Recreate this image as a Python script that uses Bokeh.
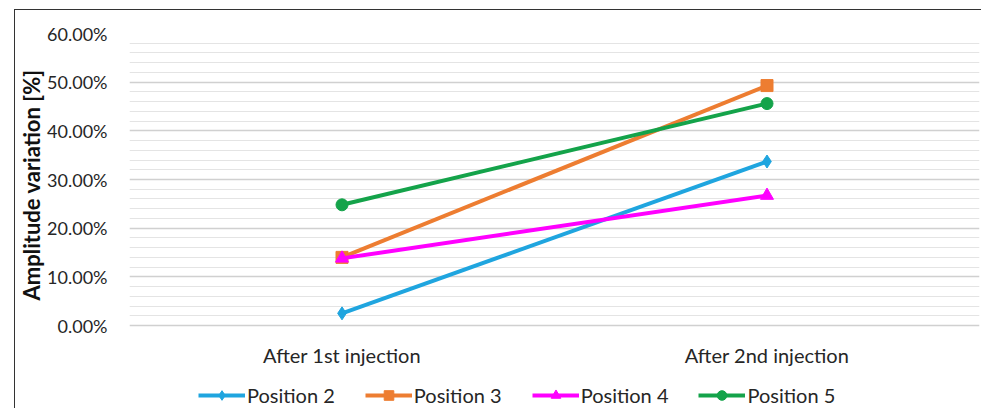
from bokeh.plotting import figure
from bokeh.models import (FactorRange, Range1d, NumeralTickFormatter, FixedTicker,
                          Legend, LegendItem, Title)
from bokeh.core.properties import value
from bokeh.embed import file_html
from bokeh.resources import INLINE

categories = ["After 1st injection", "After 2nd injection"]
series_names = ["Position 2", "Position 3", "Position 4", "Position 5"]
pos2 = [0.025, 0.337]
pos3 = [0.140, 0.493]
pos4 = [0.138, 0.267]
pos5 = [0.248, 0.456]
y_ticks = [0.0, 0.1, 0.2, 0.3, 0.4, 0.5, 0.6]
y_minor_ticks = [0.02, 0.04, 0.06, 0.08, 0.12, 0.14, 0.16, 0.18, 0.22, 0.24, 0.26, 0.28,
                 0.32, 0.34, 0.36, 0.38, 0.42, 0.44, 0.46, 0.48, 0.52, 0.54, 0.56, 0.58]
y_label = "Amplitude variation [%]"

series = [pos2, pos3, pos4, pos5]
colors = ["#1FA5DF", "#ED7D31", "#FF00FF", "#14A34A"]
markers = ["diamond", "square", "triangle", "circle"]
msizes = [13, 12, 13, 12]

FONT = "Lato"
TXT = "#262626"

# frame extends below zero so that category labels and legend sit inside it
Y_BOTTOM = -0.1705
XLABEL_Y = -0.0596

p = figure(frame_width=850, frame_height=375,
           x_range=FactorRange(*categories), y_range=Range1d(Y_BOTTOM, 0.6),
           output_backend="svg", toolbar_location=None,
           min_border_left=113, min_border_right=2, min_border_top=23, min_border_bottom=0)
p.styles = {"margin-left": "14px", "margin-top": "9px",
            "border-left": "1px solid #333", "border-top": "1px solid #333"}
p.outline_line_color = None

items = []
for name, vals, c, m, s in zip(series_names, series, colors, markers, msizes):
    r1 = p.line(categories, vals, line_color=c, line_width=4)
    r2 = p.scatter(categories, vals, marker=m, size=s, fill_color=c, line_color=c)
    items.append(LegendItem(label=name, renderers=[r1, r2]))

# category labels
p.text(x=categories, y=[XLABEL_Y] * len(categories), text=categories,
       text_font=value(FONT), text_font_size="20px", text_color=TXT,
       text_align="center", text_baseline="middle")

legend = Legend(items=items, orientation="horizontal", location=(69, 1),
                border_line_color=None, background_fill_alpha=0,
                label_text_font=FONT, label_text_font_size="20px", label_text_color=TXT,
                glyph_width=47, glyph_height=24, spacing=30, padding=0, margin=0,
                label_standoff=2)
p.add_layout(legend)

p.yaxis.ticker = FixedTicker(ticks=y_ticks, minor_ticks=y_minor_ticks)
p.yaxis.formatter = NumeralTickFormatter(format="0.00%")
p.yaxis.axis_line_color = None
p.yaxis.major_tick_line_color = None
p.yaxis.minor_tick_line_color = None
p.yaxis.major_label_standoff = 16
p.yaxis.major_label_text_font = FONT
p.yaxis.major_label_text_font_size = "18px"
p.yaxis.major_label_text_color = TXT

p.add_layout(Title(text=y_label, align="left", offset=108, text_font=FONT,
                   text_font_size="22px", text_font_style="bold", text_color="#111",
                   standoff=0), "left")

p.xaxis.visible = False

p.xgrid.grid_line_color = None
p.ygrid.grid_line_color = "#D0D0D0"
p.ygrid.grid_line_width = 1.5
p.ygrid.minor_grid_line_color = "#E4E4E4"
p.ygrid.minor_grid_line_width = 1

open("out.html", "w").write(file_html(p, INLINE))
